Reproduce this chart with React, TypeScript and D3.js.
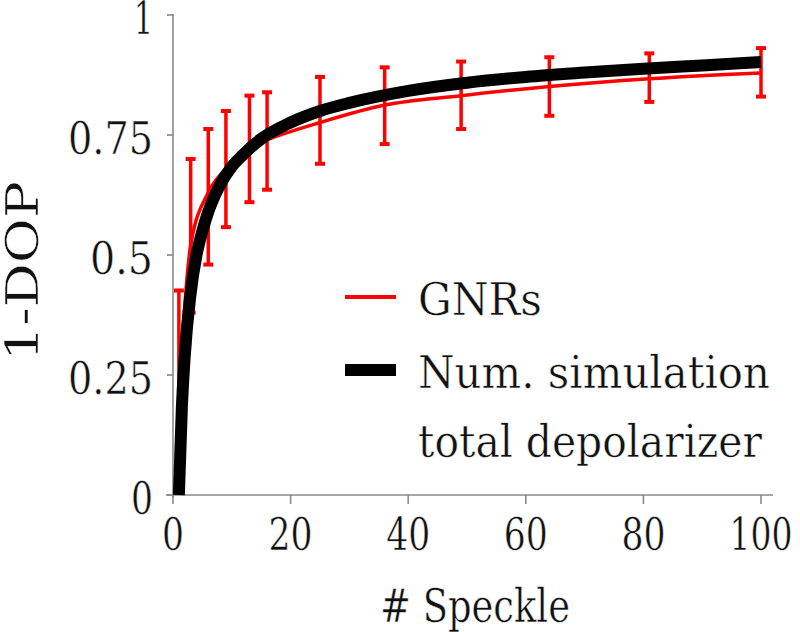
import React from "react";
import * as d3 from "d3";

const gnrX = [1, 3, 6, 9, 13, 16, 25, 36, 49, 64, 81, 100];
const gnrMean = [0.22, 0.52, 0.63, 0.68, 0.725, 0.74, 0.776, 0.8125, 0.832, 0.851, 0.867, 0.879];
const gnrLow = [0.06, 0.38, 0.48, 0.558, 0.61, 0.636, 0.69, 0.731, 0.7625, 0.79, 0.819, 0.83];
const gnrHigh = [0.426, 0.70, 0.7625, 0.80, 0.832, 0.839, 0.871, 0.891, 0.903, 0.912, 0.92, 0.931];

const simX = [1, 1.5, 2, 3, 4, 5, 6, 8, 10, 12, 15, 20, 25, 30, 40, 50, 60, 70, 80, 90, 100];
const simY = [0, 0.18, 0.29, 0.42, 0.5, 0.55, 0.59, 0.646, 0.684, 0.71, 0.742, 0.776, 0.8, 0.817, 0.842, 0.859, 0.871, 0.88, 0.888, 0.895, 0.902];

const xTicks = [0, 20, 40, 60, 80, 100];
const yTicks = [0, 0.25, 0.5, 0.75, 1];
const yTickLabels = ["0", "0.25", "0.5", "0.75", "1"];

const FONT = "'DejaVu Serif', serif";

function labelWidth(s: string) {
  let w = 0;
  for (const ch of s) w += ch === "." ? 19 : ch === "1" ? 19 : 22;
  return w;
}

export default function App() {
  const x = d3.scaleLinear().domain([0, 100]).range([173, 761]);
  const y = d3.scaleLinear().domain([0, 1]).range([495, 15]);

  const redLine = d3
    .line<number>()
    .x((_, i) => x(gnrX[i]))
    .y((d) => y(d))
    .curve(d3.curveMonotoneX)(gnrMean) as string;

  const simLine = d3
    .line<number>()
    .x((_, i) => x(simX[i]))
    .y((d) => y(d))
    .curve(d3.curveMonotoneX)(simY) as string;

  const axisColor = "#8a8a8a";
  const red = "#ff0000";
  const txt = { fontFamily: FONT, fill: "#111", stroke: "#fff", strokeWidth: 0.5 } as const;

  return (
    <svg width={800} height={632} style={{ position: "absolute", left: 0, top: 0, background: "#fff" }}>
      <rect width={800} height={632} fill="#fff" />
      {/* axes */}
      <line x1={x(0)} x2={x(0)} y1={y(1) - 1} y2={y(0) + 2} stroke={axisColor} strokeWidth={1.6} />
      <line x1={x(0) - 7} x2={773} y1={y(0)} y2={y(0)} stroke={axisColor} strokeWidth={1.6} />
      {yTicks.map((t, i) => (
        <g key={"yt" + i}>
          <line x1={x(0) - 6} x2={x(0)} y1={y(t)} y2={y(t)} stroke={axisColor} strokeWidth={1.6} />
          <text
            x={153}
            y={y(t) + 19}
            textAnchor="end"
            style={txt}
            fontSize={45}
            textLength={labelWidth(yTickLabels[i])}
            lengthAdjust="spacingAndGlyphs"
          >
            {yTickLabels[i]}
          </text>
        </g>
      ))}
      {xTicks.map((t, i) => (
        <g key={"xt" + i}>
          <line x1={x(t)} x2={x(t)} y1={y(0)} y2={y(0) + 9} stroke={axisColor} strokeWidth={1.6} />
          <text
            x={x(t)}
            y={550}
            textAnchor="middle"
            style={txt}
            fontSize={45}
            textLength={labelWidth(String(t))}
            lengthAdjust="spacingAndGlyphs"
          >
            {String(t)}
          </text>
        </g>
      ))}
      <text x={475} y={622} textAnchor="middle" style={txt} fontSize={46} textLength={190} lengthAdjust="spacingAndGlyphs">
        # Speckle
      </text>
      <text
        transform={`translate(38,271) rotate(-90)`}
        textAnchor="middle"
        style={txt}
        fontSize={45}
        textLength={180}
        lengthAdjust="spacingAndGlyphs"
      >
        1-DOP
      </text>

      {/* GNR data */}
      <path d={redLine} fill="none" stroke={red} strokeWidth={3.5} />
      {gnrX.map((xv, i) => (
        <g key={"eb" + i}>
          <line x1={x(xv)} x2={x(xv)} y1={y(gnrLow[i])} y2={y(gnrHigh[i])} stroke={red} strokeWidth={3.5} />
          <line x1={x(xv) - 5} x2={x(xv) + 5} y1={y(gnrLow[i])} y2={y(gnrLow[i])} stroke={red} strokeWidth={4} />
          <line x1={x(xv) - 5} x2={x(xv) + 5} y1={y(gnrHigh[i])} y2={y(gnrHigh[i])} stroke={red} strokeWidth={4} />
        </g>
      ))}

      {/* simulation */}
      <path d={simLine} fill="none" stroke="#000" strokeWidth={12} />

      {/* legend */}
      <line x1={345} x2={396} y1={297} y2={297} stroke={red} strokeWidth={4} />
      <text x={418} y={315} style={txt} fontSize={45} textLength={124} lengthAdjust="spacingAndGlyphs">
        GNRs
      </text>
      <line x1={345} x2={396} y1={370} y2={370} stroke="#000" strokeWidth={12} />
      <text x={418} y={388} style={txt} fontSize={45} textLength={352} lengthAdjust="spacingAndGlyphs">
        Num. simulation
      </text>
      <text x={418} y={457} style={txt} fontSize={45} textLength={344} lengthAdjust="spacingAndGlyphs">
        total depolarizer
      </text>
    </svg>
  );
}
